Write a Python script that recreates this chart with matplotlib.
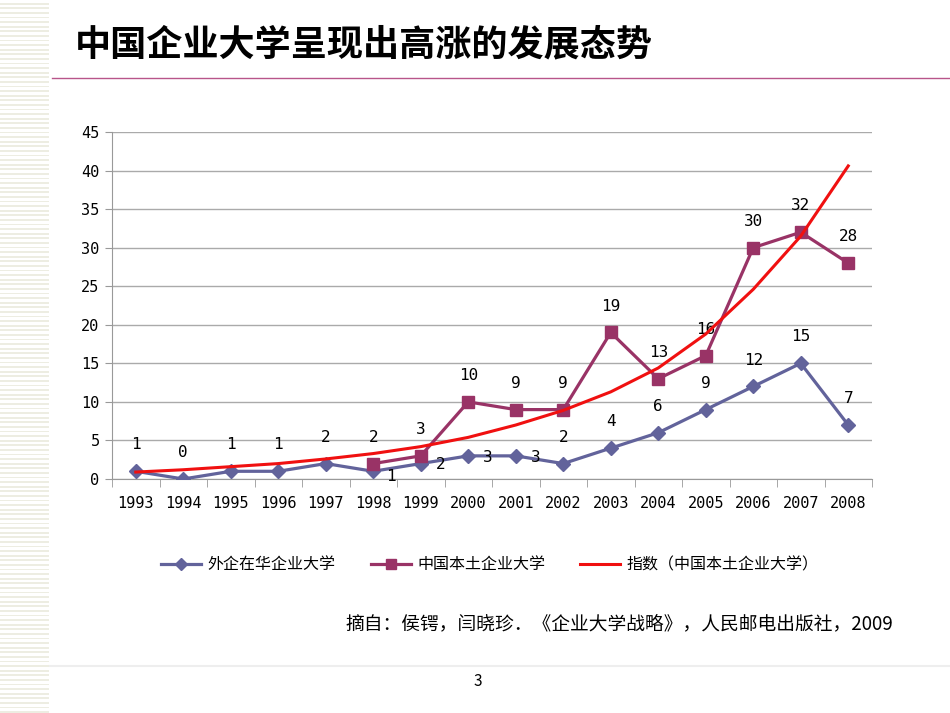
import matplotlib
matplotlib.use("Agg")
import matplotlib.pyplot as plt
import matplotlib.patches as mpatches
from matplotlib.lines import Line2D
import numpy as np

plt.rcParams['font.family'] = ['Noto Sans CJK SC', 'DejaVu Sans']

years = ['1993', '1994', '1995', '1996', '1997', '1998', '1999', '2000',
         '2001', '2002', '2003', '2004', '2005', '2006', '2007', '2008']
foreign = [1, 0, 1, 1, 2, 1, 2, 3, 3, 2, 4, 6, 9, 12, 15, 7]
local = [None, None, None, None, None, 2, 3, 10, 9, 9, 19, 13, 16, 30, 32, 28]
trend = [0.9, 1.2, 1.6, 2.0, 2.6, 3.3, 4.2, 5.4, 7.0, 8.9, 11.3, 14.4, 18.8, 24.6, 31.5, 40.6]

c_foreign = '#62639B'
c_local = '#993366'
c_trend = '#F01010'

fig = plt.figure(figsize=(9.5, 7.13), dpi=100)

# striped strip on the left
for yy in np.arange(0, 713, 4.6):
    fig.patches.append(mpatches.Rectangle((0, yy / 713), 49 / 950, 1.8 / 713,
                                          transform=fig.transFigure,
                                          fc='#EDEDE2', ec='none'))

fig.text(75 / 950, 1 - 45 / 713, '中国企业大学呈现出高涨的发展态势', fontsize=26,
         fontweight='bold', va='center', ha='left')
fig.add_artist(Line2D([52 / 950, 1], [1 - 78 / 713, 1 - 78 / 713],
                      transform=fig.transFigure, color='#B8558A', lw=1))
fig.add_artist(Line2D([50 / 950, 1], [1 - 666 / 713, 1 - 666 / 713],
                      transform=fig.transFigure, color='#EEEEEE', lw=1.5))
fig.text(478 / 950, 1 - 682 / 713, '3', fontsize=11, ha='center', va='center')
fig.text(893 / 950, 1 - 624 / 713,
         '摘自：侯锷，闫晓珍．《企业大学战略》，人民邮电出版社，2009',
         fontsize=13.5, ha='right', va='center')

ax = fig.add_axes([112 / 950, 1 - 479 / 713, 760 / 950, 347 / 713])
x = np.arange(len(years))
lv = np.array([np.nan if v is None else v for v in local], dtype=float)

ax.plot(x, foreign, color=c_foreign, lw=2.3, marker='D', ms=7.5, zorder=3)
ax.plot(x, lv, color=c_local, lw=2.3, marker='s', ms=9, zorder=3)
ax.plot(x, trend, color=c_trend, lw=2.2, zorder=4)

mono = ['DejaVu Sans Mono']
for i, v in enumerate(foreign):
    if 5 <= i <= 8:
        dx, dy = (13, -4) if i == 5 else (14, -1)
        ax.annotate(str(v), (i, v), xytext=(dx, dy), textcoords='offset points',
                    ha='center', va='center', fontsize=11.5, family=mono)
    else:
        ax.annotate(str(v), (i, v), xytext=(0, 19), textcoords='offset points',
                    ha='center', va='center', fontsize=11.5, family=mono)
for i, v in enumerate(local):
    if v is None:
        continue
    ax.annotate(str(v), (i, v), xytext=(0, 19), textcoords='offset points',
                ha='center', va='center', fontsize=11.5, family=mono)

ax.set_xlim(-0.5, len(years) - 0.5)
ax.set_ylim(0, 45)
ax.set_yticks(range(0, 46, 5))
ax.set_xticks(x)
ax.set_xticklabels(years, family=mono, fontsize=11)
ax.set_xticks(np.arange(-0.5, len(years), 1), minor=True)
ax.tick_params(axis='x', which='major', length=0, pad=12)
ax.tick_params(axis='x', which='minor', length=6, color='#999999')
ax.tick_params(axis='y', length=5, color='#999999', labelsize=11, pad=4)
for lab in ax.get_yticklabels():
    lab.set_family(mono)
ax.grid(axis='y', color='#AAAAAA', lw=1)
ax.set_axisbelow(True)
for s in ['top', 'right']:
    ax.spines[s].set_visible(False)
for s in ['left', 'bottom']:
    ax.spines[s].set_color('#999999')

handles = [Line2D([], [], color=c_foreign, lw=2.3, marker='D', ms=6),
           Line2D([], [], color=c_local, lw=2.3, marker='s', ms=7),
           Line2D([], [], color=c_trend, lw=2.2)]
labels = ['外企在华企业大学', '中国本土企业大学', '指数（中国本土企业大学）']
fig.legend(handles, labels, loc='center', bbox_to_anchor=(490 / 950, 1 - 565 / 713),
           ncol=3, frameon=False, fontsize=11.5, handlelength=2.5, columnspacing=2.2,
           handletextpad=0.4)

fig.savefig('out.png', dpi=100)
